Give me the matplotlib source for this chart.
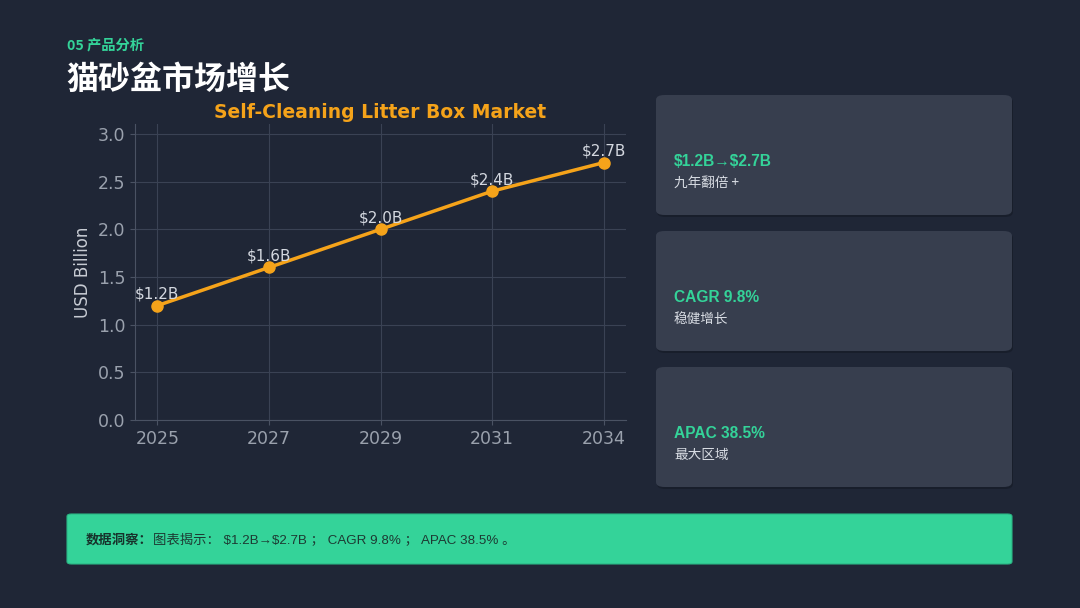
import matplotlib
matplotlib.use("Agg")
import matplotlib.pyplot as plt
from matplotlib.patches import FancyBboxPatch

plt.rcParams['font.family'] = ['Noto Sans CJK SC', 'DejaVu Sans']

years = ["2025", "2027", "2029", "2031", "2034"]
values = [1.2, 1.6, 2.0, 2.4, 2.7]
point_labels = ["$1.2B", "$1.6B", "$2.0B", "$2.4B", "$2.7B"]
yticks = [0.0, 0.5, 1.0, 1.5, 2.0, 2.5, 3.0]

card_titles = [r"\$1.2B→\$2.7B", "CAGR 9.8%", "APAC 38.5%"]
card_subs = ["九年翻倍 +", "稳健增长", "最大区域"]
insight_head = "数据洞察："
insight_body = r"图表揭示： \$1.2B→\$2.7B ； CAGR 9.8% ； APAC 38.5% 。"

BG = "#1f2636"
CARD = "#373e4e"
GREEN = "#34d399"
ORANGE = "#f5a31a"
W, H = 1080, 608

fig = plt.figure(figsize=(W / 100, H / 100), dpi=100, facecolor=BG)

def fx(px):
    return px / W

def fy(py):
    return 1 - py / H

# header
fig.text(fx(67), fy(45), "05 产品分析", color=GREEN, fontsize=10.3, fontweight="bold",
         va="center", ha="left")
fig.text(fx(66), fy(80), "猫砂盆市场增长", color="white", fontsize=23, fontweight="bold",
         va="center", ha="left")

# chart
ax = fig.add_axes([fx(135), fy(420), fx(626) - fx(135), fy(124) - fy(420)])
ax.set_facecolor(BG)
x = list(range(len(years)))
ax.plot(x, values, color=ORANGE, lw=2.5, marker="o", markersize=8, zorder=3)
for xi, v, lab in zip(x, values, point_labels):
    ax.annotate(lab, (xi, v), xytext=(0, 3), textcoords="offset points",
                ha="center", va="bottom", color="#d4d8e0", fontsize=11,
                family="DejaVu Sans")
ax.set_xticks(x)
ax.set_xticklabels(years)
ax.set_yticks(yticks)
ax.set_yticklabels([f"{t:.1f}" for t in yticks])
ax.set_xlim(-0.2, 4.2)
ax.set_ylim(0, max(values) * 1.15)
ax.grid(True, color="#3a4254", lw=0.8)
ax.set_axisbelow(True)
for s in ["top", "right"]:
    ax.spines[s].set_visible(False)
for s in ["left", "bottom"]:
    ax.spines[s].set_color("#4a5263")
ax.tick_params(colors="#4a5263", labelcolor="#9aa1ad", labelsize=12.5)
for lab in ax.get_xticklabels() + ax.get_yticklabels():
    lab.set_family("DejaVu Sans")
ax.set_ylabel("USD Billion", color="#c8ccd4", fontsize=12, family="DejaVu Sans")
ax.set_title("Self-Cleaning Litter Box Market", color=ORANGE, fontsize=13.5,
             fontweight="bold", family="DejaVu Sans", pad=4)

# cards
card_tops = [95, 231, 367]
for top, t1, t2 in zip(card_tops, card_titles, card_subs):
    shadow = FancyBboxPatch((fx(657), fy(top + 122)), fx(1013) - fx(657), fy(top) - fy(top + 120),
                            boxstyle="round,pad=0,rounding_size=0.008",
                            transform=fig.transFigure, facecolor="#181e2b", edgecolor="none",
                            zorder=0.5)
    fig.patches.append(shadow)
    card = FancyBboxPatch((fx(656), fy(top + 120)), fx(1012) - fx(656), fy(top) - fy(top + 120),
                          boxstyle="round,pad=0,rounding_size=0.008",
                          transform=fig.transFigure, facecolor=CARD, edgecolor="none",
                          zorder=1)
    fig.patches.append(card)
    fig.text(fx(674), fy(top + 67), t1, color=GREEN, fontsize=11.2, fontweight="bold",
             va="center", ha="left", family=["Liberation Sans", "Noto Sans CJK SC"], zorder=2)
    fig.text(fx(674), fy(top + 88), t2, color="#d8dce3", fontsize=9.8,
             va="center", ha="left", zorder=2)

# bottom banner
banner = FancyBboxPatch((fx(67), fy(564)), fx(1012) - fx(67), fy(514) - fy(564),
                        boxstyle="round,pad=0,rounding_size=0.004",
                        transform=fig.transFigure, facecolor=GREEN, edgecolor="#2bb584",
                        lw=0.8, zorder=1)
fig.patches.append(banner)
th = fig.text(fx(86), fy(540), insight_head, color="#17322b", fontsize=9.6,
              fontweight="bold", va="center", ha="left", zorder=2)
fig.canvas.draw()
bb = th.get_window_extent(renderer=fig.canvas.get_renderer())
fig.text(bb.x1 / W, fy(540), insight_body, color="#1d3a33", fontsize=9.6,
         va="center", ha="left", zorder=2,
         family=["Liberation Sans", "Noto Sans CJK SC", "DejaVu Sans"])

fig.savefig("out.png", dpi=100, facecolor=BG)
